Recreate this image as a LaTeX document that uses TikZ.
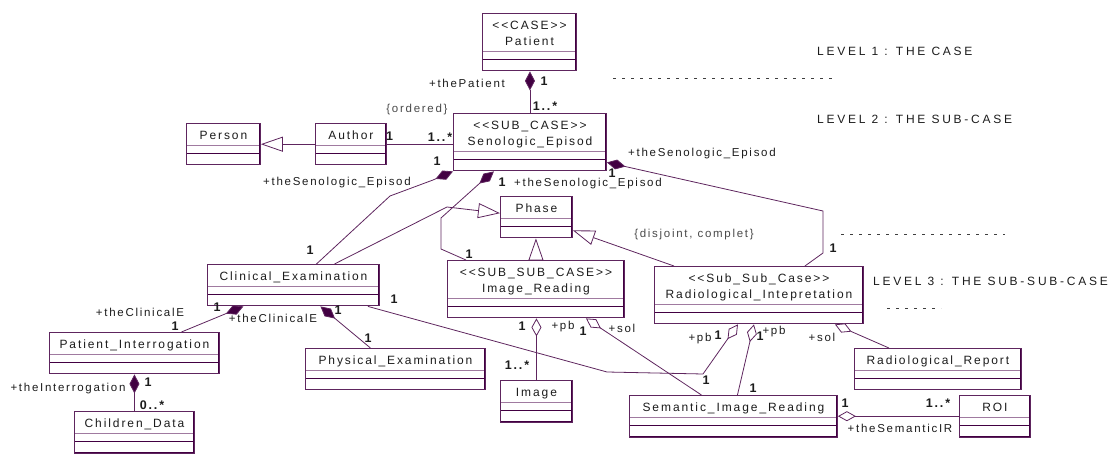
\documentclass[tikz,border=0pt]{standalone}
\usepackage{fontspec}
\setmainfont{Liberation Sans}
\newfontfamily\umlfont[LetterSpace=16]{Liberation Sans}
\newfontfamily\rolefont[LetterSpace=15]{Liberation Sans}
\newfontfamily\levelfont[LetterSpace=23]{Liberation Sans}
\usepackage{xcolor}
\usetikzlibrary{arrows.meta}
\definecolor{umlline}{HTML}{5E255E}
\definecolor{umldark}{HTML}{420042}
\definecolor{umlsep}{HTML}{A07AA0}
\definecolor{umltext}{HTML}{1C1C1C}

\begin{document}
\begin{tikzpicture}[x=1pt, y=-1pt,
  umlclass/.style={draw=umlline, line width=0.9pt, fill=white, anchor=north west, inner sep=0pt, minimum width=#1, align=center, text=umltext, font=\umlfont\fontsize{12}{16}\selectfont,
    text height=16.5pt, text depth=25pt,
    path picture={
      \draw[umlsep, line width=0.8pt] ([yshift=20pt]path picture bounding box.south west) -- ([yshift=20pt]path picture bounding box.south east);
      \draw[umldark, line width=0.8pt] ([yshift=12pt]path picture bounding box.south west) -- ([yshift=12pt]path picture bounding box.south east);
      \draw[umldark, line width=2.4pt] (path picture bounding box.south west) -- (path picture bounding box.south east) -- (path picture bounding box.north east);
    }},
  stereo/.style={text height=32.5pt},
  assoc/.style={draw=umlline, line width=0.8pt},
  compo/.style={assoc, -{Diamond[length=19pt, width=10pt, fill=umldark]}},
  aggr/.style={assoc, -{Diamond[length=18pt, width=10pt, fill=white]}},
  gener/.style={assoc, -{Triangle[length=22pt, width=15pt, fill=white]}},
  role/.style={text=umltext, inner sep=0pt, font=\rolefont\fontsize{11.5}{13}\selectfont},
  mult/.style={role, font=\rolefont\bfseries\fontsize{12.5}{14}\selectfont},
  note/.style={role, text=umltext!80},
  level/.style={text=umltext, inner sep=0pt, anchor=west, font=\levelfont\fontsize{12}{14}\selectfont},
  levelrule/.style={draw=umltext!85, line width=0.8pt, dash pattern=on 3pt off 6pt}]
  \useasboundingbox (0,0) rectangle (1109,470);

  % classes
  \node[umlclass=94pt, stereo] (pat) at (482,13) {<{}<CASE>{}>\\Patient};
  \node[umlclass=153pt, stereo] (sen) at (453,113) {<{}<SUB\_CASE>{}>\\Senologic\_Episod};
  \node[umlclass=74pt] (pers) at (186,123) {Person};
  \node[umlclass=71pt] (auth) at (315,123) {Author};
  \node[umlclass=72pt] (phase) at (500,196) {Phase};
  \node[umlclass=172pt] (clin) at (207,264) {Clinical\_Examination};
  \node[umlclass=177pt, stereo] (imgr) at (447,260) {<{}<SUB\_SUB\_CASE>{}>\\Image\_Reading};
  \node[umlclass=209pt, stereo] (rad) at (654,266) {<{}<Sub\_Sub\_Case>{}>\\Radiological\_Intepretation};
  \node[umlclass=170pt] (pint) at (49,332) {Patient\_Interrogation};
  \node[umlclass=180pt] (phys) at (305,348) {Physical\_Examination};
  \node[umlclass=120pt] (child) at (74,411) {Children\_Data};
  \node[umlclass=72pt] (img) at (500,380) {Image};
  \node[umlclass=208pt] (sem) at (629,395) {Semantic\_Image\_Reading};
  \node[umlclass=71pt] (roi) at (959,395) {ROI};
  \node[umlclass=167pt] (rrep) at (854,348) {Radiological\_Report};

  % level 2
  \draw[compo] (sen.north) -- (sen.north |- pat.south);
  \draw[assoc] (auth.east) -- (auth.east -| sen.west);
  \draw[gener] (auth.west) -- (pers.east);
  \draw[compo] ([xshift=23pt]clin.north) -- (390,196) -- (433,180) -- (sen.south west);
  \draw[gener] ([xshift=41pt]clin.north) -- (447,207) -- ([yshift=4pt]phase.west);
  \draw[compo] ([xshift=-70pt]imgr.north) -- (441,249) -- (441,218) -- (480,183) -- ([xshift=-36pt]sen.south);
  \draw[gener] (imgr.north) -- (imgr.north |- phase.south);
  \draw[gener] ([xshift=-85pt]rad.north) -- ([yshift=8pt]phase.south east);
  \draw[compo] ([xshift=46pt]rad.north) -- (823,253) -- (823,211) -- ([yshift=9pt]sen.south east);

  % level 3
  \draw[compo] ([xshift=47pt]pint.north) -- ([xshift=-50pt]clin.south);
  \draw[compo] ([xshift=-25pt]phys.north) -- ([xshift=27pt]clin.south);
  \draw[compo] (child.north) -- (pint.south);
  \draw[aggr] (img.north) -- (img.north |- imgr.south);
  \draw[aggr] ([xshift=-32pt]sem.north) -- ([xshift=50pt]imgr.south);
  \draw[aggr] ([xshift=-12pt]clin.south east) -- (607,372) -- (703,374) -- ([xshift=-21pt]rad.south);
  \draw[aggr] ([xshift=4pt]sem.north) -- ([xshift=-5pt]rad.south);
  \draw[aggr] ([xshift=-49pt]rrep.north) -- ([xshift=76pt]rad.south);
  \draw[aggr] (roi.west) -- (roi.west -| sem.east);

  % roles and multiplicities
  \node[role] (rpat) at (467,83) {+thePatient};
  \node[mult] (mpat1) at (544,81) {1};
  \node[mult] (mpat2) at (545,106) {1..*};
  \node[note] (ord) at (417,110) {\{ordered\}};
  \node[mult] (maut1) at (389.5,136) {1};
  \node[mult] (maut2) at (440,137) {1..*};
  \node[mult] (mcli1) at (310,250) {1};
  \node[role] (rcli1) at (337,183) {+theSenologic\_Episod};
  \node[mult] (mcli2) at (437,161) {1};
  \node[mult] (mimr1) at (469,254) {1};
  \node[mult] (mimr2) at (502,182) {1};
  \node[role] (rimr) at (588,184) {+theSenologic\_Episod};
  \node[role] (rrad) at (702,154) {+theSenologic\_Episod};
  \node[mult] (mrad1) at (612,173) {1};
  \node[mult] (mrad2) at (833,248) {1};
  \node[note] (disj) at (694,235) {\{disjoint, complet\}};
  \node[role] (rpin) at (140,312) {+theClinicalE};
  \node[mult] (mpin1) at (175,326) {1};
  \node[mult] (mpin2) at (217,307) {1};
  \node[role] (rphy) at (273,318) {+theClinicalE};
  \node[mult] (mphy1) at (338,310) {1};
  \node[mult] (mphy2) at (368,338) {1};
  \node[role] (rchi) at (68,389) {+theInterrogation};
  \node[mult] (mchi1) at (148,382) {1};
  \node[mult] (mchi2) at (152,405) {0..*};
  \node[mult] (mimg1) at (522,326) {1};
  \node[role] (rimg) at (563,327) {+pb};
  \node[mult] (mimg2) at (517,365) {1..*};
  \node[mult] (msol1) at (583,331) {1};
  \node[role] (rsol1) at (622,328) {+sol};
  \node[mult] (mcl1) at (394,299) {1};
  \node[mult] (mcl2) at (706,380) {1};
  \node[role] (rpb1) at (700,339) {+pb};
  \node[mult] (mpb1) at (718,335) {1};
  \node[mult] (mpb2) at (760,336) {1};
  \node[role] (rpb2) at (774,332) {+pb};
  \node[mult] (msem) at (753,388) {1};
  \node[role] (rsol2) at (822,337) {+sol};
  \node[mult] (mroi1) at (845,403) {1};
  \node[mult] (mroi2) at (938,403) {1..*};
  \node[role] (rroi) at (900,428) {+theSemanticIR};

  % levels
  \node[level] (lvone) at (817,51) {LEVEL 1 : THE CASE};
  \node[level] (lvtwo) at (817,119) {LEVEL 2 : THE SUB-CASE};
  \node[level] (lvthree) at (873,281) {LEVEL 3 : THE SUB-SUB-CASE};
  \draw[levelrule] (613,78) -- (836,78);
  \draw[levelrule] (841,234) -- (1005,234);
  \draw[levelrule] (887,308) -- (941,308);
\end{tikzpicture}
\end{document}
